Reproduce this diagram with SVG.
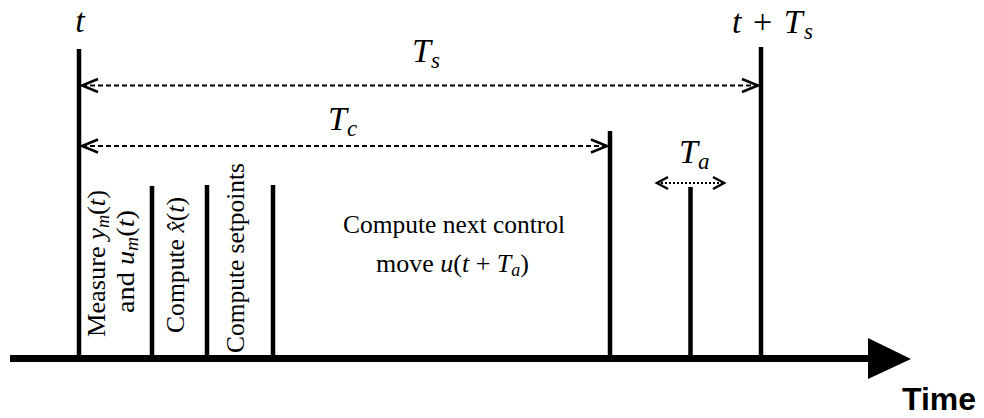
<svg xmlns="http://www.w3.org/2000/svg" width="984" height="418" viewBox="0 0 984 418">
<style>
.txt{font-family:"Liberation Serif","Times New Roman",serif;font-size:26px;fill:#000}
.math{font-family:"Liberation Serif","Times New Roman",serif;font-size:34px;fill:#000}
.i{font-style:italic}
.bar{stroke:#000;stroke-width:4.5;fill:none}
.dash{stroke:#000;stroke-width:2.2;stroke-dasharray:5 3;fill:none}
.dot{stroke:#000;stroke-width:2.2;stroke-dasharray:2 2;fill:none}
</style>
<defs>
<marker id="chev" markerUnits="userSpaceOnUse" orient="auto-start-reverse" markerWidth="24" markerHeight="20" refX="0" refY="0" viewBox="-18 -10 24 20" overflow="visible">
<path d="M-16,-6.5 L0,0 L-16,6.5" fill="none" stroke="#000" stroke-width="2.5" stroke-dasharray="none"/>
</marker>
<marker id="chevs" markerUnits="userSpaceOnUse" orient="auto-start-reverse" markerWidth="20" markerHeight="20" refX="0" refY="0" viewBox="-14 -10 20 20" overflow="visible">
<path d="M-11,-6 L0,0 L-11,6" fill="none" stroke="#000" stroke-width="2.5" stroke-dasharray="none"/>
</marker>
</defs>
<rect width="984" height="418" fill="#fff"/>
<g id="axis">
<line x1="10" y1="358.5" x2="871" y2="358.5" stroke="#000" stroke-width="7"/>
<polygon points="868,338 911,359 868,379" fill="#000"/>
<text x="902" y="410" style="font-family:'Liberation Sans',Arial,sans-serif;font-size:32px;font-weight:bold">Time</text>
</g>
<g id="connectors">
<line class="bar" x1="79" y1="49" x2="79" y2="358"/>
<line class="bar" x1="152" y1="186" x2="152" y2="358"/>
<line class="bar" x1="207" y1="185" x2="207" y2="358"/>
<line class="bar" x1="273" y1="185" x2="273" y2="358"/>
<line class="bar" x1="610" y1="131" x2="610" y2="358"/>
<line class="bar" x1="690.5" y1="187" x2="690.5" y2="358"/>
<line class="bar" x1="761" y1="47" x2="761" y2="358"/>
<line class="dash" x1="82" y1="85.5" x2="758" y2="85.5" marker-start="url(#chev)" marker-end="url(#chev)"/>
<line class="dash" x1="82" y1="146" x2="607" y2="146" marker-start="url(#chev)" marker-end="url(#chev)"/>
<line class="dot" x1="657" y1="183" x2="724" y2="183" marker-start="url(#chevs)" marker-end="url(#chevs)"/>
</g>
<g id="label-t"><text class="math i" x="80" y="32" text-anchor="middle">t</text></g>
<g id="label-tTs"><text class="math" x="732" y="33" textLength="81" lengthAdjust="spacing"><tspan class="i">t</tspan> + <tspan class="i">T</tspan><tspan class="i" font-size="23" dy="6">s</tspan></text></g>
<g id="label-Ts"><text class="math" x="412" y="62"><tspan class="i">T</tspan><tspan class="i" font-size="23" dy="6">s</tspan></text></g>
<g id="label-Tc"><text class="math" x="328" y="130"><tspan class="i">T</tspan><tspan class="i" font-size="23" dy="6">c</tspan></text></g>
<g id="label-Ta"><text class="math" x="679" y="163"><tspan class="i">T</tspan><tspan class="i" font-size="23" dy="6">a</tspan></text></g>
<g id="measure">
<text class="txt" transform="translate(105,337) rotate(-90)" textLength="147" lengthAdjust="spacingAndGlyphs">Measure <tspan class="i">y</tspan><tspan class="i" font-size="18" dy="4">m</tspan><tspan dy="-4">(</tspan><tspan class="i">t</tspan>)</text>
<text class="txt" transform="translate(134,313) rotate(-90)" textLength="103" lengthAdjust="spacingAndGlyphs">and <tspan class="i">u</tspan><tspan class="i" font-size="18" dy="4">m</tspan><tspan dy="-4">(</tspan><tspan class="i">t</tspan>)</text>
</g>
<g id="compute-x">
<text class="txt" transform="translate(184,333) rotate(-90)" textLength="136" lengthAdjust="spacingAndGlyphs">Compute <tspan class="i">x̂</tspan>(<tspan class="i">t</tspan>)</text>
</g>
<g id="compute-setpoints">
<text class="txt" transform="translate(244,353) rotate(-90)" textLength="190" lengthAdjust="spacingAndGlyphs">Compute setpoints</text>
</g>
<g id="compute-next">
<text class="txt" x="343" y="233" textLength="222" lengthAdjust="spacingAndGlyphs">Compute next control</text>
<text class="txt" x="376" y="272" textLength="153" lengthAdjust="spacingAndGlyphs">move <tspan class="i">u</tspan>(<tspan class="i">t</tspan> + <tspan class="i">T</tspan><tspan class="i" font-size="18" dy="4">a</tspan><tspan dy="-4">)</tspan></text>
</g>
</svg>
